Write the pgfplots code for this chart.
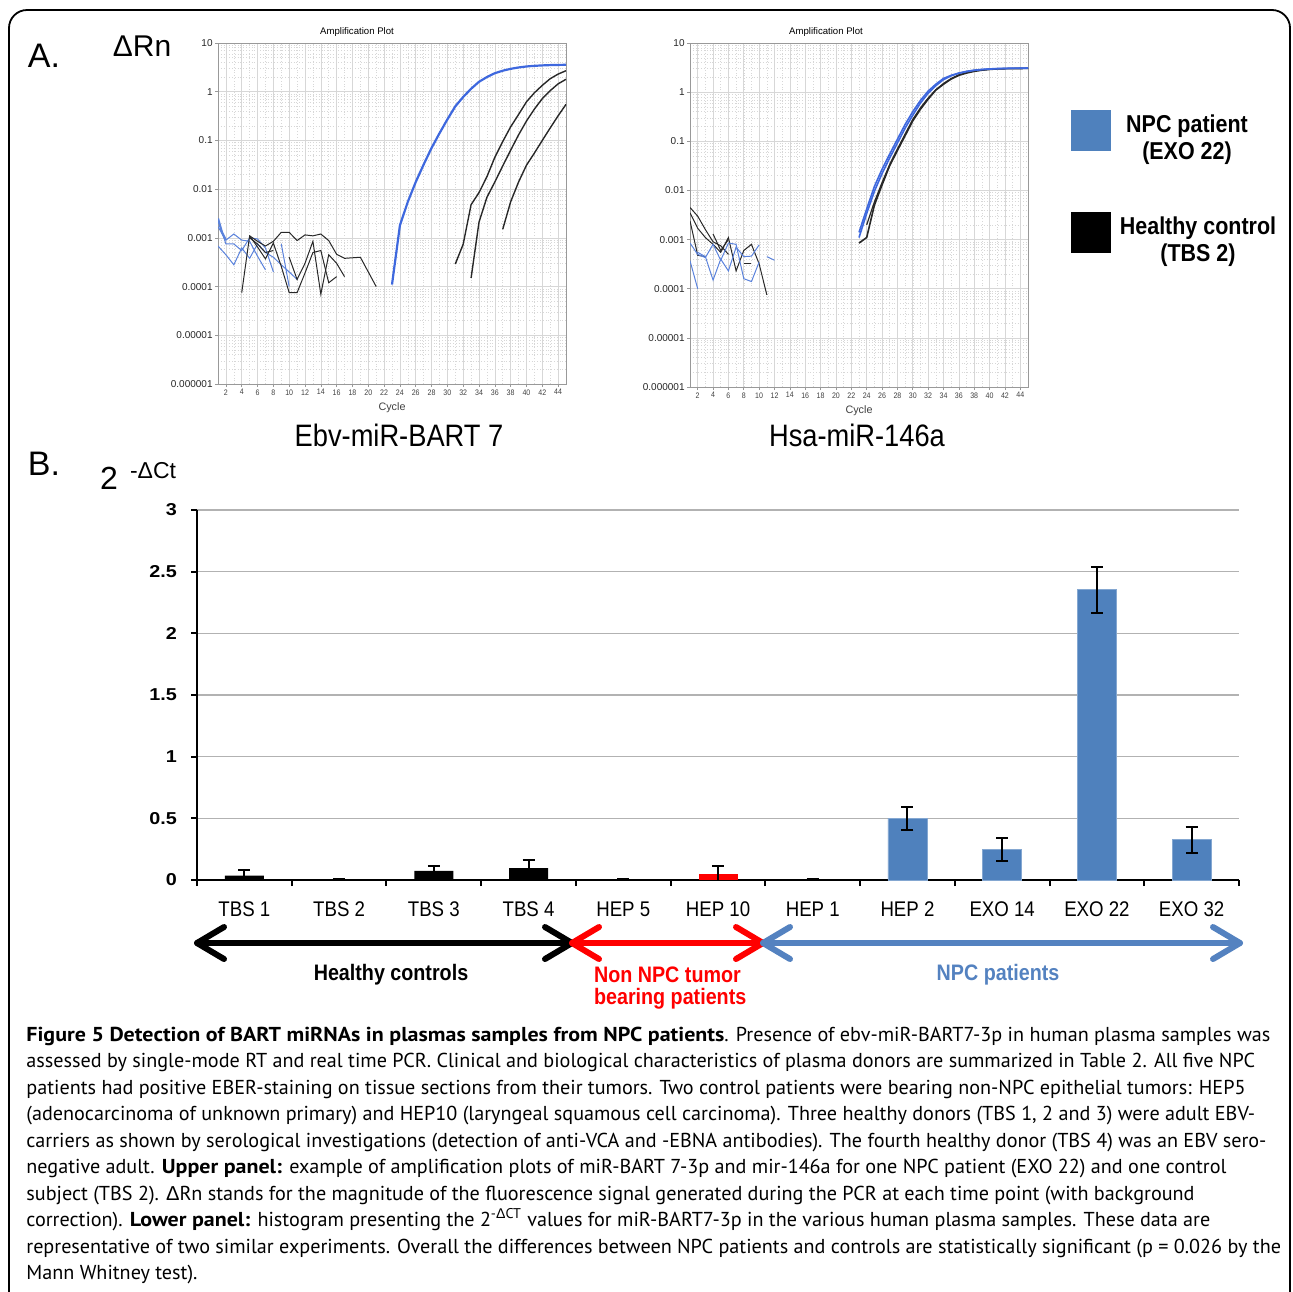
\documentclass[border=0pt]{standalone}
\usepackage{pgfplots}
\pgfplotsset{compat=1.18}
\usepackage{fontspec}
\setmainfont{Liberation Sans}
\newfontfamily\narrow[FakeStretch=0.88]{Liberation Sans}
\newfontfamily\widefont[FakeStretch=1.15]{Liberation Sans}
\newfontfamily\capfont[BoldFeatures={FakeStretch=1.09}]{PT Sans}
\newfontfamily\dfont{Liberation Sans}
\definecolor{barblue}{RGB}{79,129,189}
\definecolor{lineblue}{RGB}{62,104,222}
\definecolor{noiseblue}{RGB}{90,130,220}
\definecolor{linedark}{RGB}{40,40,40}
\definecolor{arrowblue}{RGB}{84,130,192}
\definecolor{gridgray}{RGB}{215,215,215}

\begin{document}
\begin{tikzpicture}
\useasboundingbox (0,0) rectangle (646.5pt,-645.5pt);
\begin{scope}[x=0.5pt,y=0.5pt]
\draw[line width=0.9pt, rounded corners=9pt] (9,-1295) -- (9,-10) -- (1290,-10) -- (1290,-1295);
\node[font=\fontsize{17}{17}\selectfont] at (44,-56) {A.};
\node[font=\fontsize{15}{15}\selectfont] at (142,-46) {ΔRn};
\node[font=\fontsize{17}{17}\selectfont] at (44,-464) {B.};
\node[font=\fontsize{4.8}{5}\selectfont] at (357,-32) {Amplification Plot};
\node[font=\fontsize{5.4}{6}\selectfont, text=black!75] at (392,-408) {Cycle};
\node[font=\narrow\fontsize{15.5}{16}\selectfont] at (399,-435) {Ebv-miR-BART 7};
\node[font=\fontsize{4.8}{5}\selectfont] at (826,-32) {Amplification Plot};
\node[font=\fontsize{5.4}{6}\selectfont, text=black!75] at (859,-411) {Cycle};
\node[font=\narrow\fontsize{15.5}{16}\selectfont] at (857,-435) {Hsa-miR-146a};
\fill[barblue] (1071,-110) rectangle (1111,-151);
\fill[black] (1071,-212) rectangle (1111,-253);
\node[font=\narrow\bfseries\fontsize{12.2}{13}\selectfont] at (1187,-126) {NPC patient};
\node[font=\narrow\bfseries\fontsize{12.2}{13}\selectfont] at (1187,-153) {(EXO 22)};
\node[font=\narrow\bfseries\fontsize{12.2}{13}\selectfont] at (1198,-228) {Healthy control};
\node[font=\narrow\bfseries\fontsize{12.2}{13}\selectfont] at (1198,-255) {(TBS 2)};
\node[font=\fontsize{16}{16}\selectfont] at (109,-478) {2};
\node[font=\fontsize{11.5}{12}\selectfont, anchor=west] at (123,-471) {-ΔCt};
\end{scope}

% ---------------- left amplification plot
\begin{axis}[
    ymode=log,
    at={(109pt,-192pt)}, anchor=south west,
    scale only axis, width=174pt, height=170.5pt,
    ymin=1e-6, ymax=10, xmin=1, xmax=45,
    ytick={1e-6,1e-5,1e-4,1e-3,1e-2,1e-1,1,10},
    yticklabels={0.000001,0.00001,0.0001,0.001,0.01,0.1,1,10},
    minor ytick={2e-6,3e-6,4e-6,5e-6,6e-6,7e-6,8e-6,9e-6,
      2e-5,3e-5,4e-5,5e-5,6e-5,7e-5,8e-5,9e-5,
      2e-4,3e-4,4e-4,5e-4,6e-4,7e-4,8e-4,9e-4,
      2e-3,3e-3,4e-3,5e-3,6e-3,7e-3,8e-3,9e-3,
      0.02,0.03,0.04,0.05,0.06,0.07,0.08,0.09,
      0.2,0.3,0.4,0.5,0.6,0.7,0.8,0.9,
      2,3,4,5,6,7,8,9},
    xtick={2,4,...,44},
    xticklabels={2,4,6,8,10,12,14,16,18,20,22,24,26,28,30,32,34,36,38,40,42,44},
    minor xtick={1,...,45},
    grid=both,
    major grid style={gridgray, line width=0.3pt},
    minor grid style={gridgray, densely dotted, line width=0.25pt},
    axis line style={gray!80, line width=0.4pt},
    tick style={gray!80, line width=0.3pt},
    major tick length=1.5pt, minor tick length=0pt,
    tick align=outside, tick pos=left,
    yticklabel style={font=\fontsize{5}{5}\selectfont, text=black!85, inner sep=1pt},
    xticklabel style={font=\narrow\fontsize{4}{4}\selectfont, text=black!75, inner sep=1pt},
]
\addplot[noiseblue, line width=0.5pt] coordinates {(1,0.0024)(2,0.00075)(3,0.00075)(4,0.00055)(5,0.001)(6,0.00095)(7,0.00062)(8,0.0002)};
\addplot[noiseblue, line width=0.5pt] coordinates {(1,0.0017)(2,0.0009)(3,0.0012)(4,0.0009)(5,0.00085)(6,0.00042)(7,0.00022)};
\addplot[noiseblue, line width=0.5pt] coordinates {(1,0.00068)(2,0.00045)(3,0.00028)(4,0.00062)(5,0.00038)(6,0.00075)(7,0.0005)(8,0.0004)(9,0.00028)(10,0.0002)(11,0.00014)};
\addplot[noiseblue, line width=0.5pt] coordinates {(9,0.00075)(10,0.0001)};
\addplot[noiseblue, line width=1.1pt] coordinates {(1,0.0025)(1.5,0.0013)(2,0.0009)};
\addplot[linedark, line width=0.5pt] coordinates {(4,0.000075)(5,0.0011)(6,0.00085)(7,0.00068)(8,0.00085)(9,0.0013)(10,0.0013)(11,0.00088)(12,0.00115)(13,0.0011)(14,0.0012)(15,0.00088)(16,0.00046)(17,0.00038)(18,0.00039)(19,0.0004)(20,0.0002)(21,0.0001)};
\addplot[linedark, line width=0.5pt] coordinates {(5,0.0011)(6,0.00065)(7,0.00037)(8,0.00078)(9,0.00026)(10,0.000075)(11,0.000075)(12,0.00019)(13,0.0005)(14,0.00055)(15,0.00012)(16,0.00016)};
\addplot[linedark, line width=0.5pt] coordinates {(10,0.0004)(11,0.00014)(12,0.0003)(13,0.00085)(14,0.00007)(15,0.00045)(16,0.0003)(17,0.00016)};
\addplot[linedark, line width=0.5pt] coordinates {(5,0.001)(6,0.00075)(7,0.0005)(8,0.00055)};
\addplot[linedark, line width=0.7pt] coordinates {(31,0.00029)(32,0.00074)(33,0.0048)(34,0.0085)(35,0.018)(36,0.045)(37,0.095)(38,0.19)(39,0.34)(40,0.62)(41,0.95)(42,1.35)(43,1.85)(44,2.3)(45,2.7)};
\addplot[linedark, line width=0.7pt] coordinates {(33,0.00015)(34,0.0021)(35,0.0068)(36,0.014)(37,0.03)(38,0.063)(39,0.13)(40,0.25)(41,0.44)(42,0.72)(43,1.05)(44,1.45)(45,1.8)};
\addplot[linedark, line width=0.7pt] coordinates {(37,0.0015)(38,0.0055)(39,0.014)(40,0.031)(41,0.055)(42,0.1)(43,0.18)(44,0.32)(45,0.55)};
\addplot[lineblue, line width=1.1pt] coordinates {(23,0.00011)(24,0.0018)(25,0.0055)(26,0.014)(27,0.032)(28,0.07)(29,0.14)(30,0.27)(31,0.5)(32,0.78)(33,1.15)(34,1.6)(35,2.0)(36,2.4)(37,2.7)(38,2.95)(39,3.15)(40,3.3)(41,3.4)(42,3.47)(43,3.52)(44,3.55)(45,3.57)};
\end{axis}

% ---------------- right amplification plot
\begin{axis}[
    ymode=log,
    at={(345pt,-193.5pt)}, anchor=south west,
    scale only axis, width=169pt, height=172pt,
    ymin=1e-6, ymax=10, xmin=1, xmax=45,
    ytick={1e-6,1e-5,1e-4,1e-3,1e-2,1e-1,1,10},
    yticklabels={0.000001,0.00001,0.0001,0.001,0.01,0.1,1,10},
    minor ytick={2e-6,3e-6,4e-6,5e-6,6e-6,7e-6,8e-6,9e-6,
      2e-5,3e-5,4e-5,5e-5,6e-5,7e-5,8e-5,9e-5,
      2e-4,3e-4,4e-4,5e-4,6e-4,7e-4,8e-4,9e-4,
      2e-3,3e-3,4e-3,5e-3,6e-3,7e-3,8e-3,9e-3,
      0.02,0.03,0.04,0.05,0.06,0.07,0.08,0.09,
      0.2,0.3,0.4,0.5,0.6,0.7,0.8,0.9,
      2,3,4,5,6,7,8,9},
    xtick={2,4,...,44},
    xticklabels={2,4,6,8,10,12,14,16,18,20,22,24,26,28,30,32,34,36,38,40,42,44},
    minor xtick={1,...,45},
    grid=both,
    major grid style={gridgray, line width=0.3pt},
    minor grid style={gridgray, densely dotted, line width=0.25pt},
    axis line style={gray!80, line width=0.4pt},
    tick style={gray!80, line width=0.3pt},
    major tick length=1.5pt, minor tick length=0pt,
    tick align=outside, tick pos=left,
    yticklabel style={font=\fontsize{5}{5}\selectfont, text=black!85, inner sep=1pt},
    xticklabel style={font=\narrow\fontsize{4}{4}\selectfont, text=black!75, inner sep=1pt},
]
\addplot[linedark, line width=0.5pt] coordinates {(1,0.0045)(2,0.003)(3,0.0016)(4,0.0009)(5,0.00075)(6,0.0005)};
\addplot[linedark, line width=0.5pt] coordinates {(1,0.0035)(2,0.0017)(3,0.0011)(4,0.0008)(5,0.00055)(6,0.0011)(7,0.00023)(8,0.0006)(9,0.0008)(10,0.00032)(11,0.000075)};
\addplot[linedark, line width=0.5pt] coordinates {(1,0.0024)(2,0.00048)(3,0.00045)};
\addplot[linedark, line width=0.5pt] coordinates {(4,0.0013)(5,0.0006)(6,0.001)};
\addplot[linedark, line width=0.5pt] coordinates {(8,0.00033)(9,0.00033)};
\addplot[noiseblue, line width=0.5pt] coordinates {(1,0.00085)(2,0.0005)(3,0.00043)(4,0.0008)(5,0.00038)(6,0.00085)(7,0.0008)(8,0.00016)(9,0.00014)(10,0.00035)};
\addplot[noiseblue, line width=0.5pt] coordinates {(1,0.00037)(2,0.0001)};
\addplot[noiseblue, line width=0.5pt] coordinates {(2,0.00055)(3,0.00045)(4,0.00015)(5,0.0004)(6,0.00023)(7,0.0007)(8,0.00045)(9,0.00046)(10,0.00078)};
\addplot[noiseblue, line width=0.5pt] coordinates {(11,0.00045)(12,0.00038)};
\addplot[linedark, line width=0.8pt] coordinates {(23,0.00085)(24,0.0011)(25,0.005)(26,0.013)(27,0.032)(28,0.065)(29,0.13)(30,0.26)(31,0.45)(32,0.72)(33,1.1)(34,1.45)(35,1.85)(36,2.2)(37,2.45)(38,2.65)(39,2.8)(40,2.9)(41,2.97)(42,3.0)(43,3.02)(44,3.03)(45,3.05)};
\addplot[linedark, line width=0.6pt] coordinates {(24,0.002)(25,0.0058)(26,0.0145)(27,0.034)(28,0.07)(29,0.14)(30,0.28)(31,0.48)(32,0.76)(33,1.12)(34,1.5)(35,1.9)(36,2.25)(37,2.5)(38,2.7)(39,2.83)(40,2.92)(41,2.98)(42,3.01)(43,3.03)(44,3.04)(45,3.05)};
\addplot[lineblue, line width=0.8pt] coordinates {(23,0.0011)(24,0.0034)(25,0.0096)(26,0.022)(27,0.046)(28,0.092)(29,0.185)(30,0.34)(31,0.6)(32,0.95)(33,1.35)(34,1.8)(35,2.15)(36,2.42)(37,2.62)(38,2.78)(39,2.88)(40,2.95)(41,3.0)(42,3.03)(43,3.05)(44,3.06)(45,3.07)};
\addplot[lineblue, line width=0.8pt] coordinates {(23,0.0014)(24,0.0042)(25,0.012)(26,0.027)(27,0.055)(28,0.11)(29,0.22)(30,0.4)(31,0.68)(32,1.05)(33,1.45)(34,1.9)(35,2.2)(36,2.45)(37,2.65)(38,2.8)(39,2.9)(40,2.97)(41,3.02)(42,3.05)(43,3.07)(44,3.08)(45,3.1)};
\end{axis}

% ---------------- bar chart
\begin{axis}[
  at={(98.5pt,-440pt)}, anchor=south west, scale only axis, width=521pt, height=185pt,
  xmin=-0.5, xmax=10.5, ymin=0, ymax=3,
  axis x line*=bottom, axis y line*=left,
  xtick={-0.5,0.5,...,10.5}, x tick label as interval,
  xticklabels={TBS 1,TBS 2,TBS 3,TBS 4,HEP 5,HEP 10,HEP 1,HEP 2,EXO 14,EXO 22,EXO 32},
  ytick={0,0.5,1,1.5,2,2.5,3},
  yticklabels={0,0.5,1,1.5,2,2.5,3},
  ymajorgrids, major grid style={gray!60, line width=0.7pt},
  axis line style={black, line width=1pt},
  tick style={black, line width=1pt},
  major tick length=3pt, tick align=outside,
  xticklabel style={font=\narrow\fontsize{10.6}{11}\selectfont, yshift=-4.5pt},
  yticklabel style={font=\widefont\bfseries\fontsize{8.6}{9}\selectfont, xshift=-3.5pt},
]
\addplot[ybar, bar width=19.5pt, bar shift=0pt, fill=black, draw=none,
  error bars/.cd, y dir=both, y explicit,
  error bar style={black, line width=1pt},
  error mark options={rotate=90, mark size=3pt, line width=1pt, black}]
  table[x=x, y=y, y error=e] {
  x y e
  0 0.036 0.046
  1 0.003 0.002
  2 0.075 0.040
  3 0.097 0.065
  4 0.003 0.002
  6 0.003 0.002
  };
\addplot[ybar, bar width=19.5pt, bar shift=0pt, fill=red, draw=none,
  error bars/.cd, y dir=both, y explicit,
  error bar style={black, line width=1pt},
  error mark options={rotate=90, mark size=3pt, line width=1pt, black}]
  table[x=x, y=y, y error=e] {
  x y e
  5 0.051 0.065
  };
\addplot[ybar, bar width=19.5pt, bar shift=0pt, fill=barblue, draw=barblue!70!white, line width=0.4pt,
  error bars/.cd, y dir=both, y explicit,
  error bar style={black, line width=1pt},
  error mark options={rotate=90, mark size=3pt, line width=1pt, black}]
  table[x=x, y=y, y error=e] {
  x y e
  7 0.500 0.092
  8 0.245 0.093
  9 2.355 0.187
  10 0.326 0.105
  };
\end{axis}

\begin{scope}[x=0.5pt,y=0.5pt]
\begin{scope}[line width=3pt, line cap=round, line join=round]
\draw[black] (197,-943) -- (572,-943);
\draw[black] (224,-927) -- (197,-943) -- (224,-959);
\draw[black] (545,-927) -- (572,-943) -- (545,-959);
\draw[red] (572,-943) -- (763,-943);
\draw[red] (599,-927) -- (572,-943) -- (599,-959);
\draw[red] (736,-927) -- (763,-943) -- (736,-959);
\draw[arrowblue] (763,-943) -- (1240,-943);
\draw[arrowblue] (790,-927) -- (763,-943) -- (790,-959);
\draw[arrowblue] (1213,-927) -- (1240,-943) -- (1213,-959);
\end{scope}
\node[font=\narrow\bfseries\fontsize{11.2}{12}\selectfont] at (391,-975) {Healthy controls};
\node[font=\narrow\bfseries\fontsize{11.2}{12}\selectfont, text=red, anchor=west] at (587,-975) {Non NPC tumor};
\node[font=\narrow\bfseries\fontsize{11.2}{12}\selectfont, text=red, anchor=west] at (587,-999) {bearing patients};
\node[font=\narrow\bfseries\fontsize{11.2}{12}\selectfont, text=arrowblue] at (998,-975) {NPC patients};

\begin{scope}[every node/.style={anchor=base west, inner sep=0pt, font=\capfont\fontsize{10.08}{11}\selectfont}]
\node at (26,-1041) {\textbf{Figure 5 Detection of BART miRNAs in plasmas samples from NPC patients}. Presence of ebv-miR-BART7-3p in human plasma samples was};
\node at (26,-1067) {assessed by single-mode RT and real time PCR. Clinical and biological characteristics of plasma donors are summarized in Table 2. All five NPC};
\node at (26,-1094) {patients had positive EBER-staining on tissue sections from their tumors. Two control patients were bearing non-NPC epithelial tumors: HEP5};
\node at (26,-1120) {(adenocarcinoma of unknown primary) and HEP10 (laryngeal squamous cell carcinoma). Three healthy donors (TBS 1, 2 and 3) were adult EBV-};
\node at (26,-1147) {carriers as shown by serological investigations (detection of anti-VCA and -EBNA antibodies). The fourth healthy donor (TBS 4) was an EBV sero-};
\node at (26,-1173) {negative adult. \textbf{Upper panel:} example of amplification plots of miR-BART 7-3p and mir-146a for one NPC patient (EXO 22) and one control};
\node at (26,-1200) {subject (TBS 2). {\dfont Δ}Rn stands for the magnitude of the fluorescence signal generated during the PCR at each time point (with background};
\node at (26,-1226) {correction). \textbf{Lower panel:} histogram presenting the 2\textsuperscript{-{\dfont Δ}CT} values for miR-BART7-3p in the various human plasma samples. These data are};
\node at (26,-1253) {representative of two similar experiments. Overall the differences between NPC patients and controls are statistically significant (p = 0.026 by the};
\node at (26,-1279) {Mann Whitney test).};
\end{scope}
\end{scope}
\end{tikzpicture}
\end{document}
